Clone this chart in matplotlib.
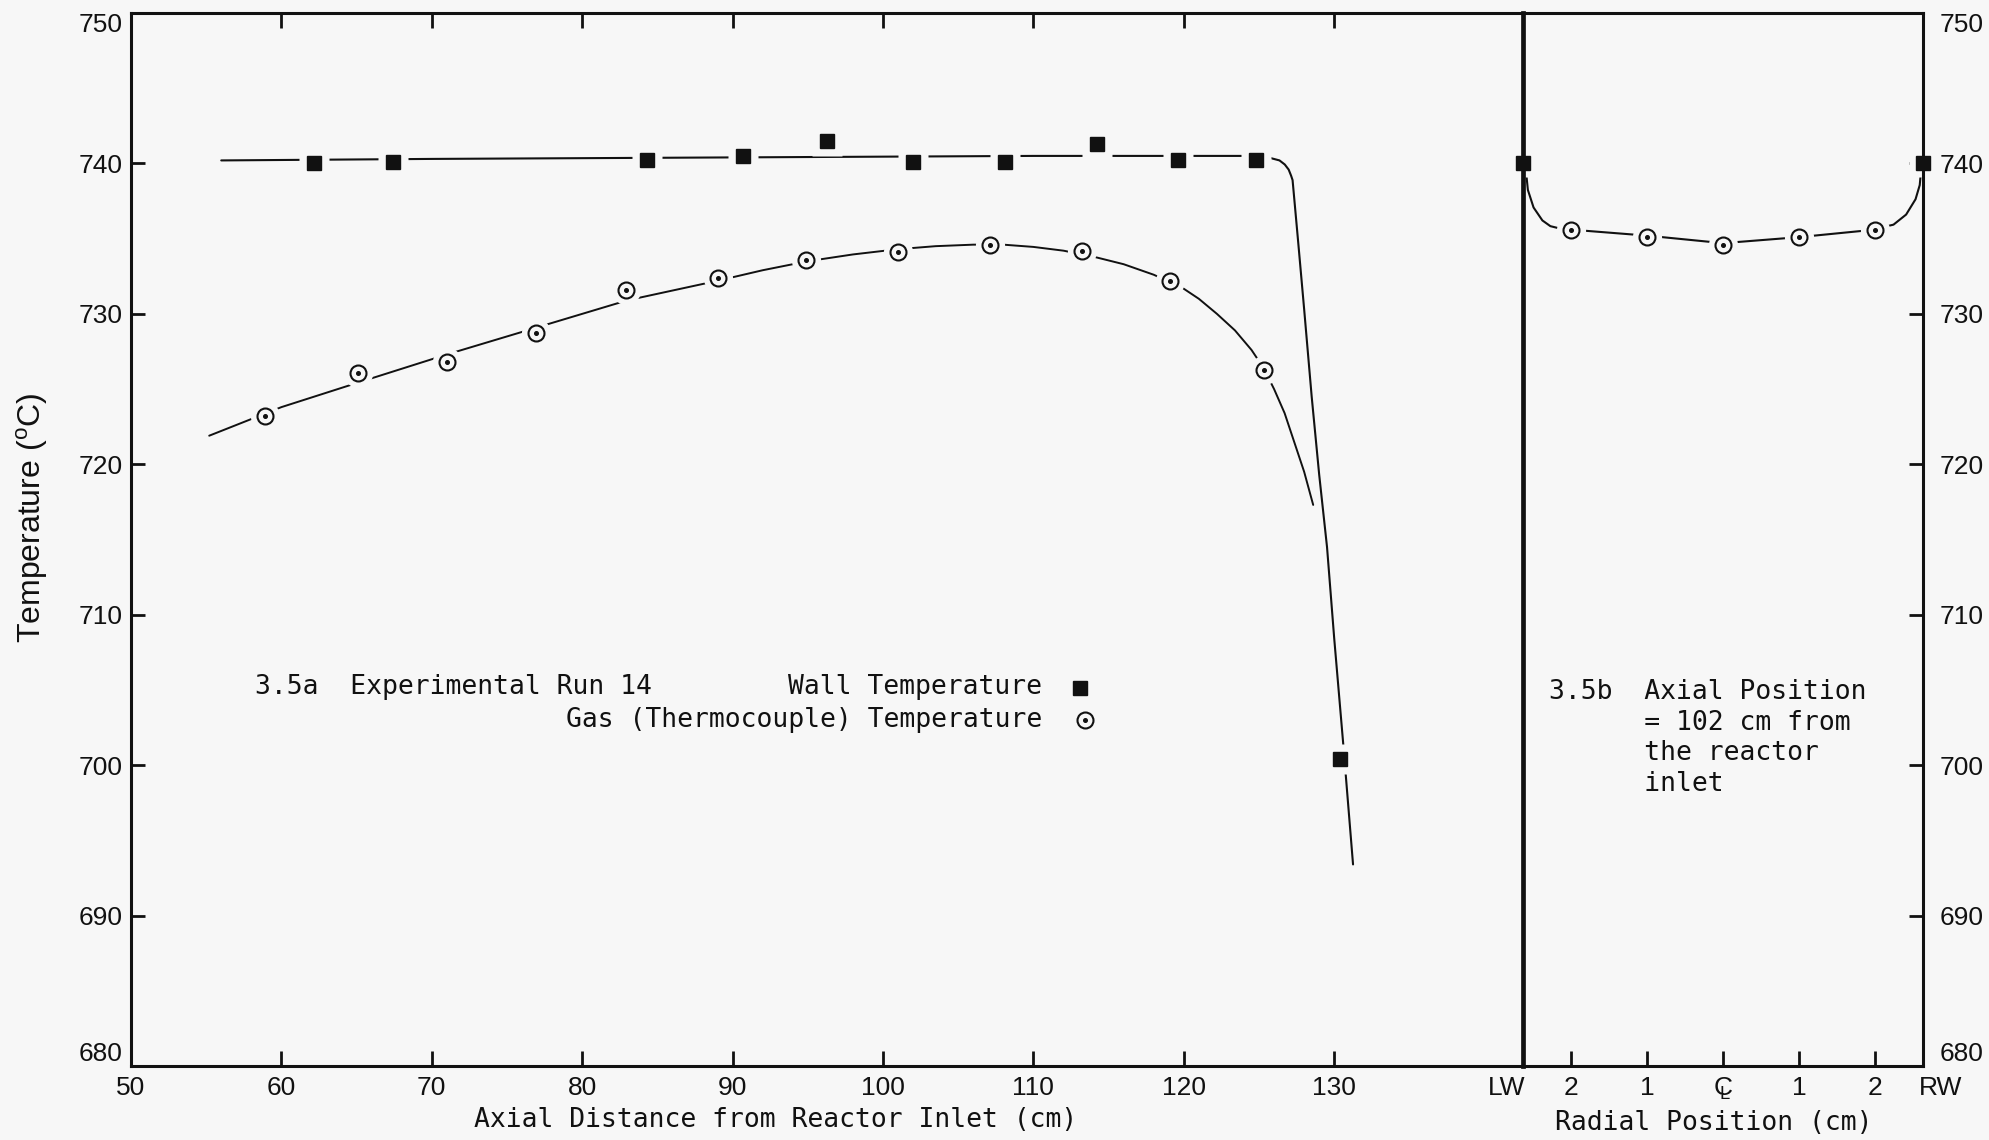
import matplotlib
matplotlib.use("Agg")
import matplotlib.pyplot as plt
from matplotlib import font_manager

# ---------------- data ----------------
# Fig 3.5a : axial profile
wall_x = [62.2, 67.4, 84.3, 90.7, 96.3, 102.0, 108.1, 114.2, 119.6, 124.8, 130.4]
wall_y = [740.0, 740.1, 740.2, 740.5, 741.5, 740.1, 740.1, 741.3, 740.2, 740.2, 700.4]

gas_x = [58.9, 65.1, 71.0, 76.9, 82.9, 89.0, 94.9, 101.0, 107.1, 113.2, 119.1, 125.3]
gas_y = [723.2, 726.1, 726.8, 728.7, 731.6, 732.4, 733.6, 734.1, 734.6, 734.2, 732.2, 726.3]

# hand-drawn fitted curves
wall_curve_x = [56.0, 70.0, 90.0, 110.0, 124.5, 125.53, 126.36, 126.71, 126.97, 127.13,
                127.23, 127.6, 128.0, 128.5, 129.0, 129.52, 130.0, 130.59, 131.25]
wall_curve_y = [740.2, 740.3, 740.4, 740.5, 740.5, 740.42, 740.20, 739.93, 739.59, 739.19,
                738.89, 734.8, 730.3, 724.5, 719.3, 714.5, 708.4, 701.5, 693.4]

gas_curve_x = [55.2, 60.0, 65.0, 71.0, 77.0, 83.0, 89.0, 92.0, 95.0, 98.0, 101.0, 103.5,
               106.0, 108.0, 110.0, 112.0, 114.0, 116.0, 118.0, 119.95, 121.0, 122.2,
               123.4, 124.5, 125.3, 126.0, 126.7, 127.3, 128.0, 128.6]
gas_curve_y = [721.9, 723.8, 725.4, 727.3, 729.1, 730.9, 732.2, 732.9, 733.5, 733.95, 734.3, 734.5,
               734.6, 734.6, 734.45, 734.2, 733.8, 733.3, 732.6, 731.7, 731.0, 730.0,
               728.9, 727.6, 726.4, 725.0, 723.4, 721.6, 719.5, 717.3]

# Fig 3.5b : radial profile at 102 cm
rad_wall_x = [-2.63, 2.63]
rad_wall_y = [740.0, 740.0]
rad_gas_x = [-2.0, -1.0, 0.0, 1.0, 2.0]
rad_gas_y = [735.6, 735.1, 734.6, 735.1, 735.6]
rad_curve_x = [-2.592, -2.566, -2.491, -2.375, -2.270, -2.158, -2.0, -1.0, 0.0, 1.0, 2.0,
               2.053, 2.242, 2.408, 2.532, 2.587, 2.605]
rad_curve_y = [739.55, 738.24, 737.07, 736.21, 735.83, 735.69, 735.6, 735.2, 734.7, 735.1, 735.6,
               735.70, 735.93, 736.60, 737.62, 738.56, 739.55]

axial_ticks = [50, 60, 70, 80, 90, 100, 110, 120, 130]
temp_ticks = [680, 690, 700, 710, 720, 730, 740, 750]
radial_ticks = [-2, -1, 0, 1, 2]
radial_labels = ["2", "1", r"$\mathregular{C}\!\!\!_{\mathregular{L}}$", "1", "2"]

# ---------------- style ----------------
BG = "#f7f7f7"
INK = "#111111"
names = {f.name for f in font_manager.fontManager.ttflist}
if "Liberation Sans Narrow" in names:
    TICKF, TSIZE = ["Liberation Sans Narrow", "DejaVu Sans"], 20
else:
    TICKF, TSIZE = ["Liberation Sans", "DejaVu Sans"], 19
SANS = ["Liberation Sans", "DejaVu Sans"]
MONO = ["DejaVu Sans Mono"]

W, H = 1989, 1140
fig = plt.figure(figsize=(W / 100, H / 100), dpi=100, facecolor=BG)
x0, xd, xr = 131, 1523, 1923
ytop, ybot = 13, 1066
axL = fig.add_axes([x0 / W, 1 - ybot / H, (xd - x0) / W, (ybot - ytop) / H], facecolor=BG)
axR = fig.add_axes([xd / W, 1 - ybot / H, (xr - xd) / W, (ybot - ytop) / H], facecolor=BG)

for ax in (axL, axR):
    ax.set_ylim(680, 750)
    for s in ax.spines.values():
        s.set_linewidth(2.2)
        s.set_color(INK)

# ---------- left panel ----------
axL.set_xlim(50, 142.55)
axL.spines["right"].set_visible(False)
axL.set_xticks(axial_ticks)
axL.set_xticklabels([str(v) for v in axial_ticks])
axL.set_yticks(temp_ticks)
axL.set_yticklabels([str(v) for v in temp_ticks])
axL.tick_params(axis="x", direction="in", length=11, width=2, top=True, bottom=True,
                pad=7, labelsize=TSIZE, colors=INK)
axL.tick_params(axis="y", direction="in", length=10, width=2, left=True, right=False,
                pad=6, labelsize=TSIZE, colors=INK)
for lab in axL.get_xticklabels() + axL.get_yticklabels():
    lab.set_family(TICKF)

axL.plot(wall_curve_x, wall_curve_y, color=INK, lw=1.5, zorder=2,
         solid_joinstyle="round", solid_capstyle="round")
axL.plot(gas_curve_x, gas_curve_y, color=INK, lw=1.4, zorder=2,
         solid_joinstyle="round", solid_capstyle="round")

# halos (gaps in the drawn curve around the symbols)
axL.plot(wall_x, wall_y, ls="none", marker="s", ms=21, mfc=BG, mec="none", zorder=2.2)
axL.plot(gas_x, gas_y, ls="none", marker="o", ms=21, mfc=BG, mec="none", zorder=2.2)
axL.plot(wall_x, wall_y, ls="none", marker="s", ms=10, mfc=INK, mec=INK, zorder=4)
axL.plot(gas_x, gas_y, ls="none", marker="o", ms=11.5, mfc=BG, mec=INK, mew=1.5, zorder=4)
axL.plot(gas_x, gas_y, ls="none", marker="o", ms=2.6, mfc=INK, mec=INK, zorder=5)

# annotation / key
axL.text(58.26, 705.2, "3.5a  Experimental Run 14", family=MONO, fontsize=19,
         ha="left", va="center", color=INK)
axL.text(110.6, 705.2, "Wall Temperature", family=MONO, fontsize=19,
         ha="right", va="center", color=INK)
axL.text(110.6, 703.0, "Gas (Thermocouple) Temperature", family=MONO, fontsize=19,
         ha="right", va="center", color=INK)
axL.plot([113.1], [705.1], ls="none", marker="s", ms=10, mfc=INK, mec=INK, zorder=4)
axL.plot([113.4], [703.0], ls="none", marker="o", ms=11.5, mfc=BG, mec=INK, mew=1.5, zorder=4)
axL.plot([113.4], [703.0], ls="none", marker="o", ms=2.6, mfc=INK, mec=INK, zorder=5)

axL.text((776 - x0) / (xd - x0), -(1120 - ybot) / (ybot - ytop),
         "Axial Distance from Reactor Inlet (cm)", transform=axL.transAxes,
         family=MONO, fontsize=19, ha="center", va="center", color=INK)

fig.text(32 / W, 1 - 518 / H, r"Temperature ($^{\mathregular{o}}$C)", rotation=90,
         family=SANS, fontsize=23, ha="center", va="center", color=INK)

# ---------- right panel ----------
axR.set_xlim(-2.63, 2.63)
axR.spines["left"].set_linewidth(3.4)
axR.set_xticks(radial_ticks)
axR.set_xticklabels(radial_labels)
axR.set_yticks(temp_ticks)
axR.set_yticklabels([str(v) for v in temp_ticks])
axR.yaxis.tick_right()
axR.tick_params(axis="x", direction="in", length=11, width=2, top=False, bottom=True,
                pad=7, labelsize=TSIZE, colors=INK)
axR.tick_params(axis="y", direction="in", length=10, width=2, left=False, right=True,
                labelleft=False, labelright=True, pad=12, labelsize=TSIZE, colors=INK)
for lab in axR.get_xticklabels() + axR.get_yticklabels():
    lab.set_family(TICKF)

axR.plot(rad_curve_x, rad_curve_y, color=INK, lw=1.5, zorder=2,
         solid_joinstyle="round", solid_capstyle="round")
axR.plot(rad_wall_x, rad_wall_y, ls="none", marker="s", ms=20, mfc=BG, mec="none", zorder=2.2, clip_on=False)
axR.plot(rad_gas_x, rad_gas_y, ls="none", marker="o", ms=21, mfc=BG, mec="none", zorder=2.2)
axR.plot(rad_wall_x, rad_wall_y, ls="none", marker="s", ms=10, mfc=INK, mec=INK, zorder=4, clip_on=False)
axR.plot(rad_gas_x, rad_gas_y, ls="none", marker="o", ms=11.5, mfc=BG, mec=INK, mew=1.5, zorder=4)
axR.plot(rad_gas_x, rad_gas_y, ls="none", marker="o", ms=2.6, mfc=INK, mec=INK, zorder=5)

# wall labels
axR.annotate("LW", xy=(-2.63, 0), xycoords=("data", "axes fraction"), xytext=(-12, -7),
             textcoords="offset points", ha="center", va="top", family=TICKF, fontsize=TSIZE,
             color=INK, annotation_clip=False)
axR.annotate("RW", xy=(2.63, 0), xycoords=("data", "axes fraction"), xytext=(13, -7),
             textcoords="offset points", ha="center", va="top", family=TICKF, fontsize=TSIZE,
             color=INK, annotation_clip=False)

axR.text(-2.29, 701.8, "3.5b  Axial Position\n      = 102 cm from\n      the reactor\n      inlet",
         family=MONO, fontsize=19, ha="left", va="center", linespacing=1.22, color=INK)
axR.text((1714 - xd) / (xr - xd), -(1123 - ybot) / (ybot - ytop), "Radial Position (cm)",
         transform=axR.transAxes, family=MONO, fontsize=19, ha="center", va="center", color=INK)

# nudge extreme y labels inside the frame, as in the original
for ax in (axL, axR):
    ticks = ax.yaxis.get_major_ticks()
    ticks[0].label1.set_va("bottom"); ticks[0].label2.set_va("bottom")
    ticks[-1].label1.set_va("top"); ticks[-1].label2.set_va("top")

fig.savefig("out.png", dpi=100, facecolor=BG)
